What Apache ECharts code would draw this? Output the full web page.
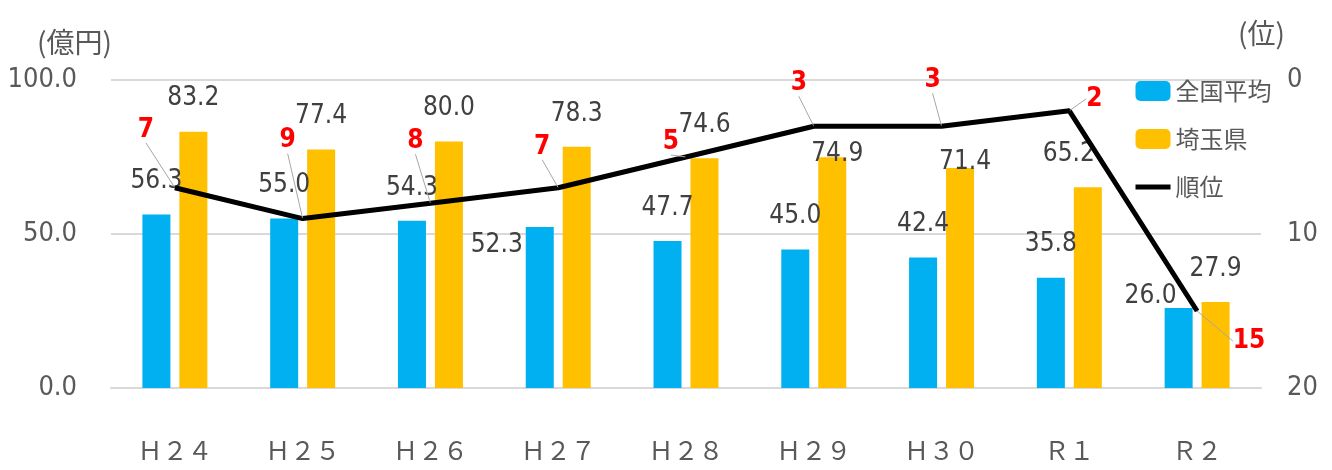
<!DOCTYPE html>
<html>
    <head>
        <meta charset="utf-8">
        <title>ECharts</title>
        <script src="https://cdn.jsdelivr.net/npm/echarts@6/dist/echarts.min.js"></script>
    </head>
    <body style="margin:0;">
        <div id="main" style="width: 1332px;height:470px;"></div>
        <script type="text/javascript">
            var myChart = echarts.init(document.getElementById('main'));

            // データ
            var categories = ['Ｈ２４', 'Ｈ２５', 'Ｈ２６', 'Ｈ２７', 'Ｈ２８', 'Ｈ２９', 'Ｈ３０', 'Ｒ１', 'Ｒ２'];
            var nationalAvg = [56.3, 55.0, 54.3, 52.3, 47.7, 45.0, 42.4, 35.8, 26.0];
            var saitama = [83.2, 77.4, 80.0, 78.3, 74.6, 74.9, 71.4, 65.2, 27.9];
            var rank = [7, 9, 8, 7, 5, 3, 3, 2, 15];
            var leftTicks = [0, 50, 100];
            var rightTicks = [0, 10, 20];

            var numFont = '"DejaVu Sans Condensed", "DejaVu Sans", sans-serif';
            var jpFont = '"Noto Sans CJK JP", sans-serif';

            // ラベル位置の微調整
            var nationalNudge = { 3: [-43, 51], 8: [-28, 21] };
            var saitamaNudge = { 5: [5, 30], 6: [5, 27], 7: [-19, 0] };
            var rankNudge = [[-29, -58], [-15, -78], [-15, -62], [-16, -41], [-15, -15], [-15, -43], [-9, -46], [25, -12], [52, 30]];

            function nudge(map) {
                return function (p) {
                    var o = map[p.dataIndex];
                    return o ? { dx: o[0], dy: o[1] } : {};
                };
            }

            var barLabel = {
                show: true,
                position: 'top',
                distance: 20,
                color: '#404040',
                fontSize: 26,
                fontFamily: numFont,
                formatter: function (p) { return p.value.toFixed(1); }
            };

            var option = {
                animation: false,
                grid: { left: 111, right: 71, top: 80, bottom: 82 },
                legend: {
                    orient: 'vertical',
                    left: 1133,
                    top: 79,
                    padding: 0,
                    itemWidth: 35,
                    itemHeight: 20,
                    itemGap: 24,
                    textStyle: { fontSize: 24, color: '#595959', fontFamily: jpFont },
                    data: ['全国平均', '埼玉県', {
                        name: '順位',
                        itemStyle: { opacity: 0 },
                        lineStyle: { width: 5, color: '#000000' }
                    }]
                },
                graphic: [
                    { type: 'text', left: 37, top: 28, style: { text: '(億円)', fontSize: 28, fill: '#595959', fontFamily: jpFont } },
                    { type: 'text', left: 1238, top: 19, style: { text: '(位)', fontSize: 28, fill: '#595959', fontFamily: jpFont } }
                ],
                xAxis: {
                    type: 'category',
                    data: categories,
                    axisTick: { show: false },
                    axisLine: { lineStyle: { color: '#d9d9d9', width: 2 } },
                    axisLabel: { margin: 50, fontSize: 25, color: '#595959', fontFamily: jpFont }
                },
                yAxis: [{
                    type: 'value',
                    min: leftTicks[0],
                    max: leftTicks[leftTicks.length - 1],
                    interval: leftTicks[1] - leftTicks[0],
                    axisLine: { show: false },
                    axisTick: { show: false },
                    splitLine: { lineStyle: { color: '#d9d9d9', width: 2 } },
                    axisLabel: {
                        margin: 34, fontSize: 27, color: '#595959', fontFamily: numFont,
                        formatter: function (v) { return v.toFixed(1); }
                    }
                }, {
                    type: 'value',
                    inverse: true,
                    min: rightTicks[0],
                    max: rightTicks[rightTicks.length - 1],
                    interval: rightTicks[1] - rightTicks[0],
                    axisLine: { show: false },
                    axisTick: { show: false },
                    splitLine: { show: false },
                    axisLabel: { margin: 26, fontSize: 27, color: '#595959', fontFamily: numFont }
                }],
                series: [{
                    name: '全国平均',
                    type: 'bar',
                    data: nationalAvg,
                    barWidth: 28,
                    barGap: '32%',
                    itemStyle: { color: '#00B0F0' },
                    label: barLabel,
                    labelLayout: nudge(nationalNudge)
                }, {
                    name: '埼玉県',
                    type: 'bar',
                    data: saitama,
                    barWidth: 28,
                    itemStyle: { color: '#FFC000' },
                    label: barLabel,
                    labelLayout: nudge(saitamaNudge)
                }, {
                    name: '順位',
                    type: 'line',
                    yAxisIndex: 1,
                    data: rank,
                    symbol: 'circle',
                    symbolSize: 1,
                    z: 5,
                    lineStyle: { color: '#000000', width: 5 },
                    itemStyle: { color: '#000000' },
                    label: {
                        show: true,
                        position: 'inside',
                        color: '#FF0000',
                        fontSize: 26,
                        fontWeight: 'bold',
                        fontFamily: numFont
                    },
                    labelLine: { show: true, lineStyle: { color: '#a6a6a6', width: 1 } },
                    labelLayout: nudge(rankNudge)
                }]
            };

            myChart.setOption(option);
        </script>
    </body>
</html>
